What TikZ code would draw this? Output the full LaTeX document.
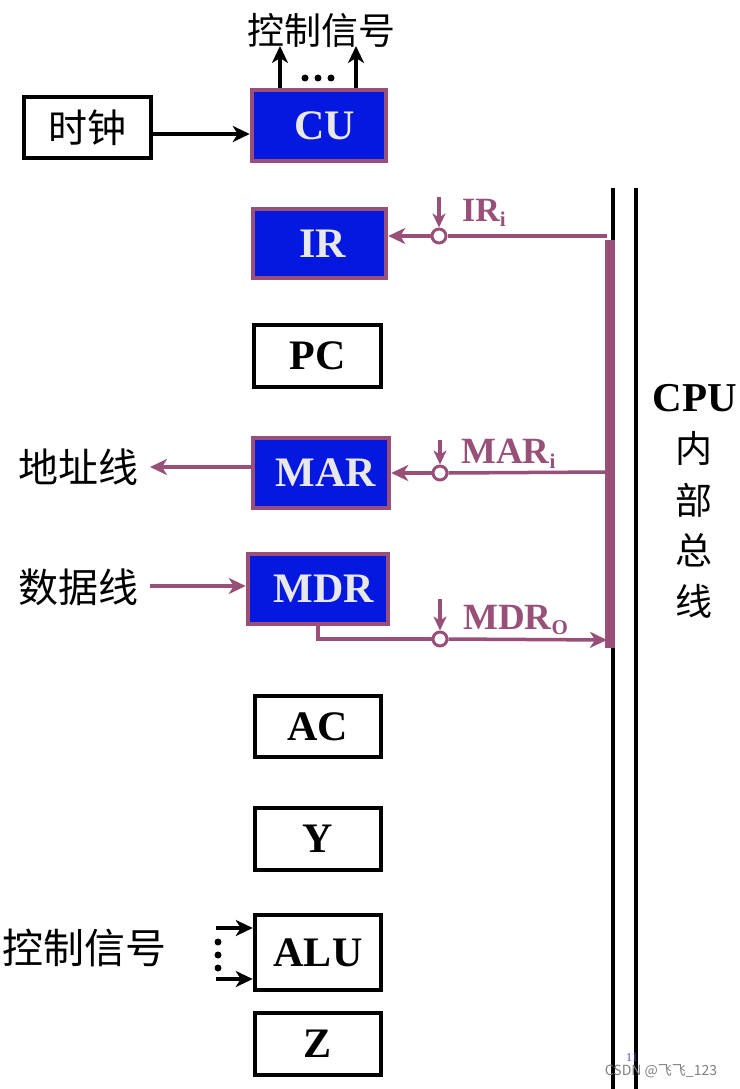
\documentclass[tikz,border=0pt]{standalone}
\usepackage{fontspec}
\setmainfont{Liberation Serif}
\newfontfamily\cjk{Noto Sans CJK SC}
\usetikzlibrary{arrows.meta,calc}
\definecolor{purp}{RGB}{152,80,120}
\definecolor{regblue}{RGB}{4,24,224}
\definecolor{regtext}{RGB}{232,232,232}
\newcommand{\regsub}[1]{\raisebox{-0.35ex}{\fontsize{21}{21}\selectfont #1}}
\begin{document}
\begin{tikzpicture}[x=1pt,y=-1pt,
  reg/.style={draw=black, line width=4.5pt, fill=white, inner sep=0pt, font=\bfseries\fontsize{42}{42}\selectfont},
  breg/.style={reg, draw=purp, fill=regblue, text=regtext},
  cjkt/.style={font=\cjk\fontsize{40}{40}\selectfont, inner sep=0pt},
  blk/.style={draw=black, line width=3.5pt, -{Stealth[length=17pt,width=16pt,inset=5pt]}},
  pl/.style={draw=purp, line width=3.5pt},
  parr/.style={pl, -{Stealth[length=17pt,width=16pt,inset=5pt]}},
  tarr/.style={pl, -{Stealth[length=14pt,width=13pt,inset=4pt]}},
  gate/.style={circle, draw=purp, fill=white, line width=3pt, minimum size=14pt, inner sep=0pt},
  lab/.style={text=purp, font=\bfseries\fontsize{37}{37}\selectfont, inner sep=0pt, anchor=base west},
  dotn/.style={circle, fill=black, minimum size=7pt, inner sep=0pt}
]
\useasboundingbox (0,0) rectangle (739,1089);

% bus
\coordinate (busTL) at (613,188);
\coordinate (busBL) at (613,1089);
\coordinate (busTR) at (636,188);
\coordinate (busBR) at (636,1089);
\draw[line width=4.5pt] (busTL) -- (busBL);
\draw[line width=4.5pt] (busTR) -- (busBR);
\fill[purp] (605,240) rectangle (615,648);

% registers
\node[reg, minimum width=127pt, minimum height=61pt, font=\cjk\fontsize{39}{39}\selectfont] (clk) at (87.5,127.5) {时钟};
\node[breg, minimum width=134pt, minimum height=71pt] (CU) at (319,125.5) {\kern12pt CU};
\node[breg, minimum width=133pt, minimum height=69pt] (IR) at (319.5,243.5) {\kern6pt IR};
\node[reg, minimum width=127pt, minimum height=62pt] (PC) at (317.5,356) {PC};
\node[breg, minimum width=136pt, minimum height=70pt] (MAR) at (321,473) {\kern10pt MAR};
\node[breg, minimum width=140pt, minimum height=70pt] (MDR) at (318,589) {\kern12pt MDR};
\node[reg, minimum width=126pt, minimum height=61pt] (AC) at (318,726.5) {AC};
\node[reg, minimum width=126pt, minimum height=62pt] (Y) at (318,839) {Y};
\node[reg, minimum width=126pt, minimum height=75pt] (ALU) at (318,952.5) {ALU};
\node[reg, minimum width=126pt, minimum height=62pt] (Z) at (318,1044) {Z};

% clock -> CU
\draw[blk] (clk.east |- 0,134) -- (CU.west |- 0,134);

% CU control outputs
\node[cjkt, font=\cjk\fontsize{37}{37}\selectfont] (ctop) at (321,30) {控制信号};
\coordinate (cu1) at (280,46);
\coordinate (cu2) at (356,46);
\draw[blk] (CU.north -| cu1) -- (cu1);
\draw[blk] (CU.north -| cu2) -- (cu2);
\node[dotn] (d1) at (305,78) {};
\node[dotn] (d2) at (318,78) {};
\node[dotn] (d3) at (331,78) {};

% IR_i
\coordinate (bIR) at (607,236);
\node[gate] (gIR) at (439,236) {};
\draw[pl] (bIR) -- (gIR.east);
\draw[parr] (gIR.west) -- (gIR.west -| IR.east);
\coordinate (tIR) at (439,197);
\draw[tarr] (tIR) -- (gIR.north);
\node[lab, font=\bfseries\fontsize{34}{34}\selectfont] (lIR) at (462,221) {IR\regsub{i}};

% MAR
\coordinate (addr) at (150,467);
\draw[parr] (addr -| MAR.west) -- (addr);
\node[cjkt, anchor=east] (laddr) at (139,467) {地址线};
\coordinate (bMAR) at (607,472);
\node[gate] (gMAR) at (440,473) {};
\draw[pl] (bMAR) -- (gMAR.east);
\draw[parr] (gMAR.west) -- (gMAR.west -| MAR.east);
\coordinate (tMAR) at (440,440);
\draw[tarr] (tMAR) -- (gMAR.north);
\node[lab] (lMAR) at (461,463) {MAR\regsub{i}};

% MDR
\coordinate (dat) at (150,586);
\draw[parr] (dat) -- (dat -| MDR.west);
\node[cjkt, anchor=east] (ldat) at (139,587) {数据线};
\coordinate (mdrb) at (318,626);
\node[gate] (gMDR) at (440,639) {};
\coordinate (bMDR) at (607,640);
\draw[pl] (mdrb) -- (318,639) -- (gMDR.west);
\draw[parr] (gMDR.east) -- (bMDR);
\coordinate (tMDR) at (440,599);
\draw[tarr] (tMDR) -- (gMDR.north);
\node[lab] (lMDR) at (463,629) {MDR\regsub{O}};

% ALU control
\node[cjkt, font=\cjk\fontsize{41}{41}\selectfont] (cleft) at (84,948) {控制信号};
\coordinate (a1) at (216,928);
\coordinate (a2) at (216,979);
\draw[blk] (a1) -- (a1 -| ALU.west);
\draw[blk] (a2) -- (a2 -| ALU.west);
\node[dotn] (e1) at (218,942) {};
\node[dotn] (e2) at (218,955) {};
\node[dotn] (e3) at (218,968) {};

% bus label
\node[font=\bfseries\fontsize{41}{41}\selectfont, inner sep=0pt] (cpu) at (695,398) {CPU};
\node[cjkt, font=\cjk\fontsize{37}{37}\selectfont] (n1) at (694,448) {内};
\node[cjkt, font=\cjk\fontsize{37}{37}\selectfont] (n2) at (694,500) {部};
\node[cjkt, font=\cjk\fontsize{37}{37}\selectfont] (n3) at (694,550) {总};
\node[cjkt, font=\cjk\fontsize{37}{37}\selectfont] (n4) at (694,601) {线};

% watermark
\node[text=blue!40!gray, font=\fontsize{12}{12}\selectfont, inner sep=0pt] (wm1) at (632,1058) {11};
\node[text=gray, font=\cjk\fontsize{14}{14}\selectfont, inner sep=0pt] (wm2) at (661,1071) {CSDN @飞飞\_123};
\end{tikzpicture}
\end{document}
